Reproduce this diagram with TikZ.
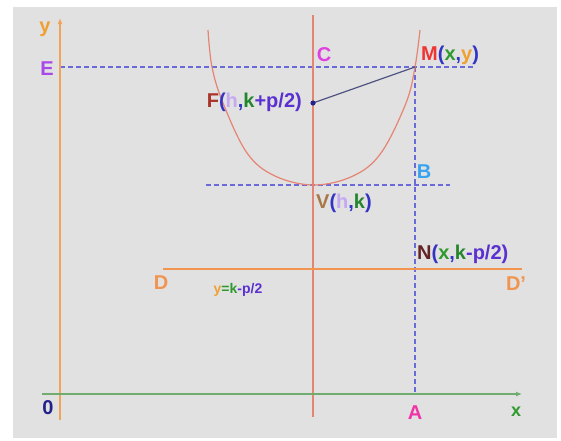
\documentclass[tikz,border=0pt]{standalone}
\usepackage{fontspec}
\setmainfont{Liberation Sans}
\usetikzlibrary{arrows.meta}
\definecolor{fondgris}{HTML}{E1E1E1}
\definecolor{orangeax}{HTML}{F0A458}
\definecolor{vertax}{HTML}{70AC70}
\definecolor{bleutir}{HTML}{6A6AD8}
\definecolor{saumon}{HTML}{E68474}
\definecolor{ardoise}{HTML}{4E5282}
\definecolor{violetE}{HTML}{A848E8}
\definecolor{magentaC}{HTML}{E040E0}
\definecolor{rougeM}{HTML}{F03434}
\definecolor{bleuP}{HTML}{3434C4}
\definecolor{vertX}{HTML}{2E9A2E}
\definecolor{orangeY}{HTML}{F0A030}
\definecolor{brunF}{HTML}{A8342A}
\definecolor{lavande}{HTML}{C4A8F4}
\definecolor{vertK}{HTML}{24862C}
\definecolor{violetP}{HTML}{5A30D0}
\definecolor{brunV}{HTML}{A87848}
\definecolor{bleuB}{HTML}{38A4F0}
\definecolor{brunN}{HTML}{642424}
\definecolor{orangeD}{HTML}{F09450}
\definecolor{roseA}{HTML}{F034A8}
\definecolor{marine}{HTML}{22228A}
\begin{document}
\begin{tikzpicture}[
    x=1pt, y=-1pt,   % On travaille en pixels, origine en haut
    % Styles des traits
    axe/.style={line width=1.4pt, -{Latex[length=6pt,width=5pt]}},
    tirets/.style={draw=bleutir, line width=1.3pt, dash pattern=on 5pt off 3pt},
    droite/.style={line width=1.3pt},
    courbe/.style={draw=saumon, line width=1.2pt},
    every node/.style={font=\fontsize{20}{22}\selectfont\bfseries, inner sep=0pt}
]
% Fond
\fill[white] (0,0) rectangle (561,440);
\fill[fondgris] (13,7) rectangle (557,438);
% Points
\coordinate (yb) at (60,420);
\coordinate (yh) at (60,18);
\coordinate (xg) at (42,394);
\coordinate (xd) at (522,394);
\coordinate (lE0) at (60,67);
\coordinate (lE1) at (473,67);
\coordinate (Sh) at (313,15);
\coordinate (Sb) at (313,417);
\coordinate (Vg) at (206,185);
\coordinate (Vd) at (450,185);
\coordinate (ptM) at (415,67);
\coordinate (ptA) at (415,394);
\coordinate (ptF) at (313,103);
\coordinate (dirG) at (163,269);
\coordinate (dirD) at (522,269);
% Droites
\draw[tirets] (lE0) -- (lE1);
\draw[tirets] (Vg) -- (Vd);
\draw[tirets] (ptM) -- (ptA);
\draw[droite, draw=saumon] (Sh) -- (Sb);
\draw[droite, draw=orangeD] (dirG) -- (dirD);
% Parabole
\draw[courbe] plot[smooth, tension=0.6] coordinates {(208,30) (212,67) (223,103)
    (247,153) (275,176) (314,185) (353,176) (381,153) (406,103) (415,67) (420,30)};
\draw[draw=ardoise, line width=1.2pt] (ptF) -- (ptM);
\fill[marine] (ptF) circle (2.6pt);
% Axes
\draw[axe, orangeax] (yb) -- (yh);
\draw[axe, vertax] (xg) -- (xd);
% Etiquettes
\node[orangeY] (ly) at (45,29) {y};
\node[vertX, font=\fontsize{18}{20}\selectfont\bfseries] (lx) at (516,412) {x};
\node[violetE] (lE) at (47,69) {E};
\node[marine] (l0) at (48,408) {0};
\node[magentaC] (lC) at (324,55) {C};
\node[anchor=west] (lM) at (421,55) {\textcolor{rougeM}{M}\textcolor{bleuP}{(}\textcolor{vertX}{x}\textcolor{bleuP}{,}\textcolor{orangeY}{y}\textcolor{bleuP}{)}};
\node[anchor=east] (lF) at (302,102) {\textcolor{brunF}{F}\textcolor{bleuP}{(}\textcolor{lavande}{h}\textcolor{bleuP}{,}\textcolor{vertK}{k}\textcolor{violetP}{+p/2)}};
\node[bleuB] (lB) at (424,172) {B};
\node[anchor=west] (lV) at (316,203) {\textcolor{brunV}{V}\textcolor{bleuP}{(}\textcolor{lavande}{h}\textcolor{bleuP}{,}\textcolor{vertK}{k}\textcolor{bleuP}{)}};
\node[anchor=west] (lN) at (417,254) {\textcolor{brunN}{N}\textcolor{bleuP}{(}\textcolor{vertX}{x}\textcolor{bleuP}{,}\textcolor{vertK}{k}\textcolor{violetP}{-p/2)}};
\node[orangeD] (lD) at (161,283) {D};
\node[orangeD] (lDp) at (516,284) {D'};
\node[font=\fontsize{14}{16}\selectfont\bfseries] (ldir) at (238,290) {\textcolor{orangeY}{y}\textcolor{vertX}{=k}\textcolor{violetP}{-p/2}};
\node[roseA] (lA) at (415,413) {A};
\end{tikzpicture}
\end{document}
